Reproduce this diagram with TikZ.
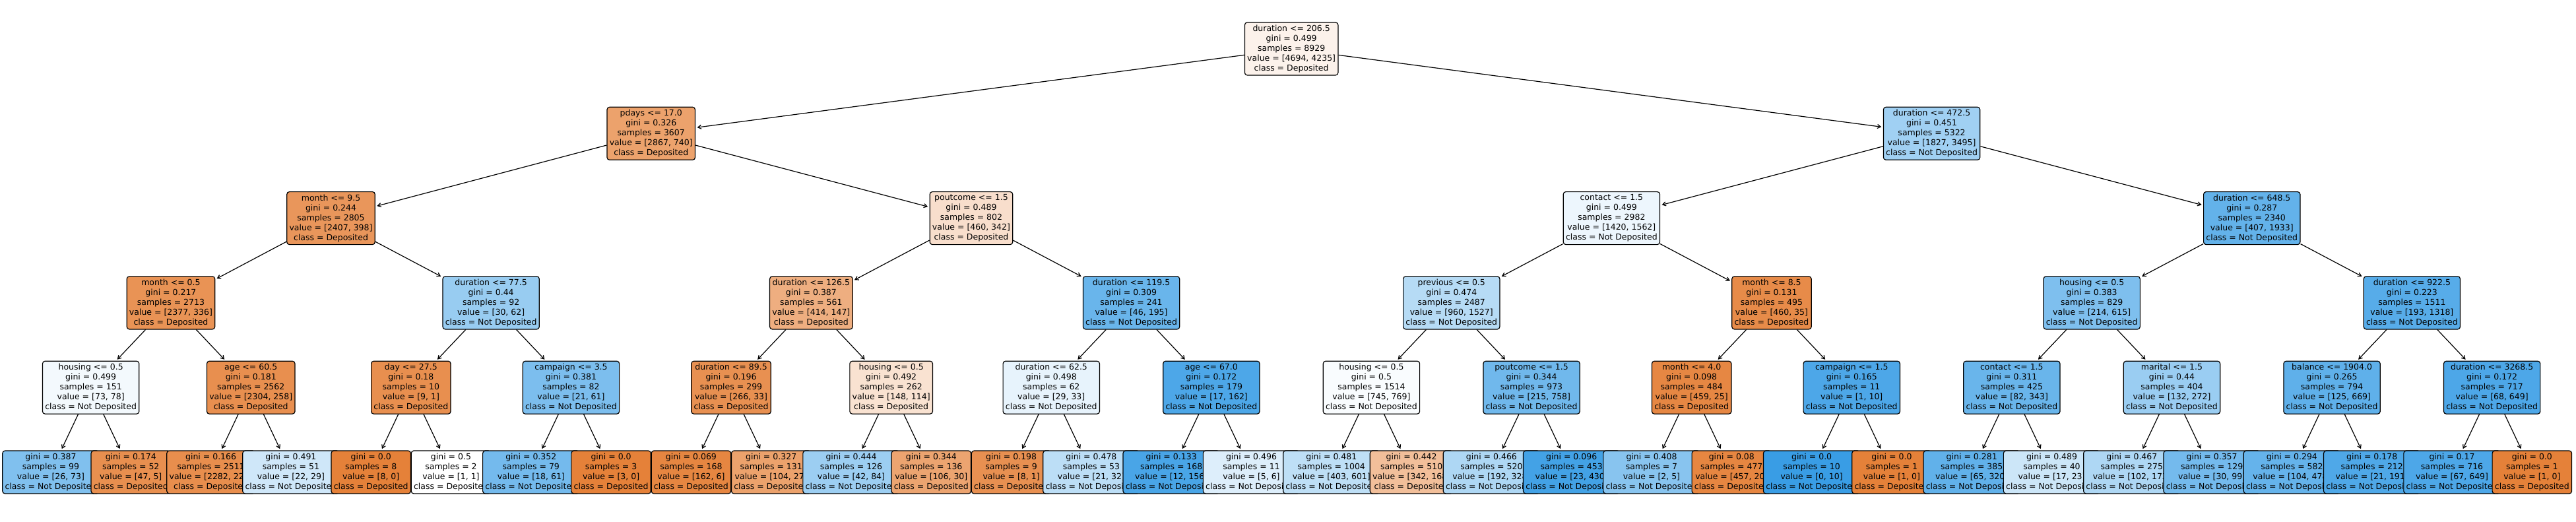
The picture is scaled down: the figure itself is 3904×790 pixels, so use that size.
\documentclass[tikz,border=0pt]{standalone}
\usepackage{fontspec}
\setmainfont{DejaVu Sans}
\usetikzlibrary{arrows.meta}
\definecolor{dep}{RGB}{229,129,57}
\definecolor{ndp}{RGB}{57,157,229}
\newcommand\lx[1]{77+121.3*(#1)}
\newcommand\ly[1]{74+128.3*(#1)}
\newcommand\ntxt[5]{#1\\gini = #2\\samples = #3\\value = [#4]\\class = #5}
\newcommand\ltxt[4]{gini = #1\\samples = #2\\value = [#3]\\class = #4}
\begin{document}
\begin{tikzpicture}[x=1pt,y=-1pt,
  tn/.style={draw=black, line width=1.2pt, rounded corners=3.8pt, align=center,
    inner xsep=3.8pt, inner ysep=0pt, minimum height=80pt,
    font=\fontsize{12.5}{15}\selectfont},
  lf/.style={tn, minimum height=65pt},
  arr/.style={line width=1.2pt, -{Straight Barb[length=5pt,width=6pt]}, shorten >=2.5pt}]
\fill[white] (0,0) rectangle (3904,790);
\useasboundingbox (0,0) rectangle (3904,790);
% level 0
\node[tn, fill=dep!10!white] (r) at ({\lx{15.5}},{\ly{0}}) {\ntxt{duration <= 206.5}{0.499}{8929}{4694, 4235}{Deposited}};
% level 1
\node[tn, fill=dep!74!white] (a0) at ({\lx{7.5}},{\ly{1}}) {\ntxt{pdays <= 17.0}{0.326}{3607}{2867, 740}{Deposited}};
\node[tn, fill=ndp!48!white] (a1) at ({\lx{23.5}},{\ly{1}}) {\ntxt{duration <= 472.5}{0.451}{5322}{1827, 3495}{Not Deposited}};
% level 2
\node[tn, fill=dep!83!white] (b0) at ({\lx{3.5}},{\ly{2}}) {\ntxt{month <= 9.5}{0.244}{2805}{2407, 398}{Deposited}};
\node[tn, fill=dep!26!white] (b1) at ({\lx{11.5}},{\ly{2}}) {\ntxt{poutcome <= 1.5}{0.489}{802}{460, 342}{Deposited}};
\node[tn, fill=ndp!9!white] (b2) at ({\lx{19.5}},{\ly{2}}) {\ntxt{contact <= 1.5}{0.499}{2982}{1420, 1562}{Not Deposited}};
\node[tn, fill=ndp!79!white] (b3) at ({\lx{27.5}},{\ly{2}}) {\ntxt{duration <= 648.5}{0.287}{2340}{407, 1933}{Not Deposited}};
% level 3
\node[tn, fill=dep!86!white] (c0) at ({\lx{1.5}},{\ly{3}}) {\ntxt{month <= 0.5}{0.217}{2713}{2377, 336}{Deposited}};
\node[tn, fill=ndp!52!white] (c1) at ({\lx{5.5}},{\ly{3}}) {\ntxt{duration <= 77.5}{0.44}{92}{30, 62}{Not Deposited}};
\node[tn, fill=dep!64!white] (c2) at ({\lx{9.5}},{\ly{3}}) {\ntxt{duration <= 126.5}{0.387}{561}{414, 147}{Deposited}};
\node[tn, fill=ndp!76!white] (c3) at ({\lx{13.5}},{\ly{3}}) {\ntxt{duration <= 119.5}{0.309}{241}{46, 195}{Not Deposited}};
\node[tn, fill=ndp!37!white] (c4) at ({\lx{17.5}},{\ly{3}}) {\ntxt{previous <= 0.5}{0.474}{2487}{960, 1527}{Not Deposited}};
\node[tn, fill=dep!92!white] (c5) at ({\lx{21.5}},{\ly{3}}) {\ntxt{month <= 8.5}{0.131}{495}{460, 35}{Deposited}};
\node[tn, fill=ndp!65!white] (c6) at ({\lx{25.5}},{\ly{3}}) {\ntxt{housing <= 0.5}{0.383}{829}{214, 615}{Not Deposited}};
\node[tn, fill=ndp!85!white] (c7) at ({\lx{29.5}},{\ly{3}}) {\ntxt{duration <= 922.5}{0.223}{1511}{193, 1318}{Not Deposited}};
% level 4
\node[tn, fill=ndp!6!white] (d0) at ({\lx{0.5}},{\ly{4}}) {\ntxt{housing <= 0.5}{0.499}{151}{73, 78}{Not Deposited}};
\node[tn, fill=dep!89!white] (d1) at ({\lx{2.5}},{\ly{4}}) {\ntxt{age <= 60.5}{0.181}{2562}{2304, 258}{Deposited}};
\node[tn, fill=dep!89!white] (d2) at ({\lx{4.5}},{\ly{4}}) {\ntxt{day <= 27.5}{0.18}{10}{9, 1}{Deposited}};
\node[tn, fill=ndp!66!white] (d3) at ({\lx{6.5}},{\ly{4}}) {\ntxt{campaign <= 3.5}{0.381}{82}{21, 61}{Not Deposited}};
\node[tn, fill=dep!88!white] (d4) at ({\lx{8.5}},{\ly{4}}) {\ntxt{duration <= 89.5}{0.196}{299}{266, 33}{Deposited}};
\node[tn, fill=dep!23!white] (d5) at ({\lx{10.5}},{\ly{4}}) {\ntxt{housing <= 0.5}{0.492}{262}{148, 114}{Deposited}};
\node[tn, fill=ndp!12!white] (d6) at ({\lx{12.5}},{\ly{4}}) {\ntxt{duration <= 62.5}{0.498}{62}{29, 33}{Not Deposited}};
\node[tn, fill=ndp!90!white] (d7) at ({\lx{14.5}},{\ly{4}}) {\ntxt{age <= 67.0}{0.172}{179}{17, 162}{Not Deposited}};
\node[tn, fill=ndp!3!white] (d8) at ({\lx{16.5}},{\ly{4}}) {\ntxt{housing <= 0.5}{0.5}{1514}{745, 769}{Not Deposited}};
\node[tn, fill=ndp!72!white] (d9) at ({\lx{18.5}},{\ly{4}}) {\ntxt{poutcome <= 1.5}{0.344}{973}{215, 758}{Not Deposited}};
\node[tn, fill=dep!95!white] (d10) at ({\lx{20.5}},{\ly{4}}) {\ntxt{month <= 4.0}{0.098}{484}{459, 25}{Deposited}};
\node[tn, fill=ndp!90!white] (d11) at ({\lx{22.5}},{\ly{4}}) {\ntxt{campaign <= 1.5}{0.165}{11}{1, 10}{Not Deposited}};
\node[tn, fill=ndp!76!white] (d12) at ({\lx{24.5}},{\ly{4}}) {\ntxt{contact <= 1.5}{0.311}{425}{82, 343}{Not Deposited}};
\node[tn, fill=ndp!51!white] (d13) at ({\lx{26.5}},{\ly{4}}) {\ntxt{marital <= 1.5}{0.44}{404}{132, 272}{Not Deposited}};
\node[tn, fill=ndp!81!white] (d14) at ({\lx{28.5}},{\ly{4}}) {\ntxt{balance <= 1904.0}{0.265}{794}{125, 669}{Not Deposited}};
\node[tn, fill=ndp!90!white] (d15) at ({\lx{30.5}},{\ly{4}}) {\ntxt{duration <= 3268.5}{0.172}{717}{68, 649}{Not Deposited}};
% leaves
\node[lf, fill=ndp!64!white] (e0) at ({\lx{0}},{\ly{5}}) {\ltxt{0.387}{99}{26, 73}{Not Deposited}};
\node[lf, fill=dep!89!white] (e1) at ({\lx{1}},{\ly{5}}) {\ltxt{0.174}{52}{47, 5}{Deposited}};
\node[lf, fill=dep!90!white] (e2) at ({\lx{2}},{\ly{5}}) {\ltxt{0.166}{2511}{2282, 229}{Deposited}};
\node[lf, fill=ndp!24!white] (e3) at ({\lx{3}},{\ly{5}}) {\ltxt{0.491}{51}{22, 29}{Not Deposited}};
\node[lf, fill=dep] (e4) at ({\lx{4}},{\ly{5}}) {\ltxt{0.0}{8}{8, 0}{Deposited}};
\node[lf, fill=white] (e5) at ({\lx{5}},{\ly{5}}) {\ltxt{0.5}{2}{1, 1}{Deposited}};
\node[lf, fill=ndp!70!white] (e6) at ({\lx{6}},{\ly{5}}) {\ltxt{0.352}{79}{18, 61}{Not Deposited}};
\node[lf, fill=dep] (e7) at ({\lx{7}},{\ly{5}}) {\ltxt{0.0}{3}{3, 0}{Deposited}};
\node[lf, fill=dep!96!white] (e8) at ({\lx{8}},{\ly{5}}) {\ltxt{0.069}{168}{162, 6}{Deposited}};
\node[lf, fill=dep!74!white] (e9) at ({\lx{9}},{\ly{5}}) {\ltxt{0.327}{131}{104, 27}{Deposited}};
\node[lf, fill=ndp!50!white] (e10) at ({\lx{10}},{\ly{5}}) {\ltxt{0.444}{126}{42, 84}{Not Deposited}};
\node[lf, fill=dep!72!white] (e11) at ({\lx{11}},{\ly{5}}) {\ltxt{0.344}{136}{106, 30}{Deposited}};
\node[lf, fill=dep!88!white] (e12) at ({\lx{12}},{\ly{5}}) {\ltxt{0.198}{9}{8, 1}{Deposited}};
\node[lf, fill=ndp!34!white] (e13) at ({\lx{13}},{\ly{5}}) {\ltxt{0.478}{53}{21, 32}{Not Deposited}};
\node[lf, fill=ndp!92!white] (e14) at ({\lx{14}},{\ly{5}}) {\ltxt{0.133}{168}{12, 156}{Not Deposited}};
\node[lf, fill=ndp!17!white] (e15) at ({\lx{15}},{\ly{5}}) {\ltxt{0.496}{11}{5, 6}{Not Deposited}};
\node[lf, fill=ndp!33!white] (e16) at ({\lx{16}},{\ly{5}}) {\ltxt{0.481}{1004}{403, 601}{Not Deposited}};
\node[lf, fill=dep!51!white] (e17) at ({\lx{17}},{\ly{5}}) {\ltxt{0.442}{510}{342, 168}{Deposited}};
\node[lf, fill=ndp!41!white] (e18) at ({\lx{18}},{\ly{5}}) {\ltxt{0.466}{520}{192, 328}{Not Deposited}};
\node[lf, fill=ndp!95!white] (e19) at ({\lx{19}},{\ly{5}}) {\ltxt{0.096}{453}{23, 430}{Not Deposited}};
\node[lf, fill=ndp!60!white] (e20) at ({\lx{20}},{\ly{5}}) {\ltxt{0.408}{7}{2, 5}{Not Deposited}};
\node[lf, fill=dep!96!white] (e21) at ({\lx{21}},{\ly{5}}) {\ltxt{0.08}{477}{457, 20}{Deposited}};
\node[lf, fill=ndp] (e22) at ({\lx{22}},{\ly{5}}) {\ltxt{0.0}{10}{0, 10}{Not Deposited}};
\node[lf, fill=dep] (e23) at ({\lx{23}},{\ly{5}}) {\ltxt{0.0}{1}{1, 0}{Deposited}};
\node[lf, fill=ndp!80!white] (e24) at ({\lx{24}},{\ly{5}}) {\ltxt{0.281}{385}{65, 320}{Not Deposited}};
\node[lf, fill=ndp!26!white] (e25) at ({\lx{25}},{\ly{5}}) {\ltxt{0.489}{40}{17, 23}{Not Deposited}};
\node[lf, fill=ndp!41!white] (e26) at ({\lx{26}},{\ly{5}}) {\ltxt{0.467}{275}{102, 173}{Not Deposited}};
\node[lf, fill=ndp!70!white] (e27) at ({\lx{27}},{\ly{5}}) {\ltxt{0.357}{129}{30, 99}{Not Deposited}};
\node[lf, fill=ndp!78!white] (e28) at ({\lx{28}},{\ly{5}}) {\ltxt{0.294}{582}{104, 478}{Not Deposited}};
\node[lf, fill=ndp!89!white] (e29) at ({\lx{29}},{\ly{5}}) {\ltxt{0.178}{212}{21, 191}{Not Deposited}};
\node[lf, fill=ndp!90!white] (e30) at ({\lx{30}},{\ly{5}}) {\ltxt{0.17}{716}{67, 649}{Not Deposited}};
\node[lf, fill=dep] (e31) at ({\lx{31}},{\ly{5}}) {\ltxt{0.0}{1}{1, 0}{Deposited}};
% connectors
\draw[arr] (r) -- (a0); \draw[arr] (r) -- (a1);
\draw[arr] (a0) -- (b0); \draw[arr] (a0) -- (b1);
\draw[arr] (a1) -- (b2); \draw[arr] (a1) -- (b3);
\draw[arr] (b0) -- (c0); \draw[arr] (b0) -- (c1);
\draw[arr] (b1) -- (c2); \draw[arr] (b1) -- (c3);
\draw[arr] (b2) -- (c4); \draw[arr] (b2) -- (c5);
\draw[arr] (b3) -- (c6); \draw[arr] (b3) -- (c7);
\foreach \p/\q in {0/0,1/2,2/4,3/6,4/8,5/10,6/12,7/14}{
  \pgfmathtruncatemacro\qq{\q+1}
  \draw[arr] (c\p) -- (d\q); \draw[arr] (c\p) -- (d\qq);
}
\foreach \p/\q in {0/0,1/2,2/4,3/6,4/8,5/10,6/12,7/14,8/16,9/18,10/20,11/22,12/24,13/26,14/28,15/30}{
  \pgfmathtruncatemacro\qq{\q+1}
  \draw[arr] (d\p) -- (e\q); \draw[arr] (d\p) -- (e\qq);
}
\end{tikzpicture}
\end{document}
